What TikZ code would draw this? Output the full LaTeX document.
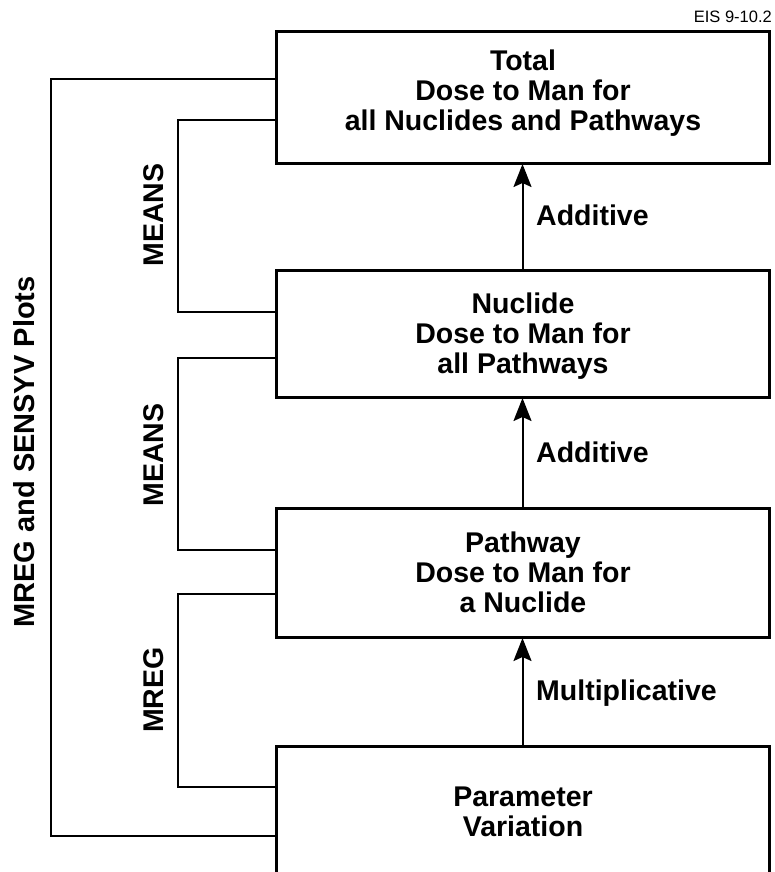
\documentclass[tikz,border=0pt]{standalone}
\usepackage{fontspec}
\setmainfont{Liberation Sans}
\usetikzlibrary{arrows.meta}
\begin{document}
\begin{tikzpicture}[x=1pt,y=-1pt,
  stage/.style={draw, line width=3pt, rectangle, minimum width=493pt,
    inner sep=0pt, outer sep=0pt},
  stagetext/.style={anchor=north, align=center, inner sep=0pt,
    font=\bfseries\fontsize{28.5}{30}\selectfont},
  flow/.style={line width=2pt, shorten >=1pt,
    -{Stealth[length=23pt,width=18pt,inset=4pt]}},
  flowtag/.style={anchor=base west, inner sep=0pt,
    font=\bfseries\fontsize{28.5}{30}\selectfont},
  link/.style={line width=2pt},
  linktag/.style={rotate=90, inner sep=0pt,
    font=\bfseries\fontsize{28.5}{30}\selectfont},
  sidetag/.style={rotate=90, inner sep=0pt,
    font=\bfseries\fontsize{29}{30}\selectfont},
]
\useasboundingbox (0,0) rectangle (774,872);
\clip (0,0) rectangle (774,872);

% stage boxes, top to bottom
\node[stage, minimum height=131pt] (total) at (522.5,97.5) {};
\node[stage, minimum height=127pt] (nuclide) at (522.5,333.5) {};
\node[stage, minimum height=129pt] (pathway) at (522.5,572.5) {};
\node[stage, minimum height=154pt] (param) at (522.5,823) {};

% box texts
\node[stagetext] (totaltext) at (523,50)
  {Total\\Dose to Man for\\all Nuclides and Pathways};
\node[stagetext] (nuclidetext) at (523,293)
  {Nuclide\\Dose to Man for\\all Pathways};
\node[stagetext] (pathwaytext) at (523,532)
  {Pathway\\Dose to Man for\\a Nuclide};
\node[stagetext] (paramtext) at (523,787)
  {Parameter\\Variation};

% aggregation arrows
\draw[flow] (param.north) -- (pathway.south);
\draw[flow] (pathway.north) -- (nuclide.south);
\draw[flow] (nuclide.north) -- (total.south);

\node[flowtag] (add1) at (536,225) {Additive};
\node[flowtag] (add2) at (536,462) {Additive};
\node[flowtag] (mult) at (536,700) {Multiplicative};

% analysis brackets on the left
\draw[link] ([yshift=-22.5pt]total.west) -- (178,120) |- ([yshift=21.5pt]nuclide.west);
\draw[link] ([yshift=-24.5pt]nuclide.west) -- (178,358) |- ([yshift=22.5pt]pathway.west);
\draw[link] ([yshift=-21.5pt]pathway.west) -- (178,594) |- ([yshift=36pt]param.west);
\draw[link] ([yshift=18.5pt]total.west) -- (51,79) |- ([yshift=-13pt]param.west);

\node[linktag] (means1) at (154,215) {MEANS};
\node[linktag] (means2) at (154,455) {MEANS};
\node[linktag] (mreg) at (154,690) {MREG};
\node[sidetag] (plots) at (24,452) {MREG and SENSYV Plots};

% figure number
\node[anchor=base east, inner sep=0pt, font=\fontsize{16.5}{18}\selectfont]
  (figno) at (772,23) {EIS 9-10.2};
\end{tikzpicture}
\end{document}
